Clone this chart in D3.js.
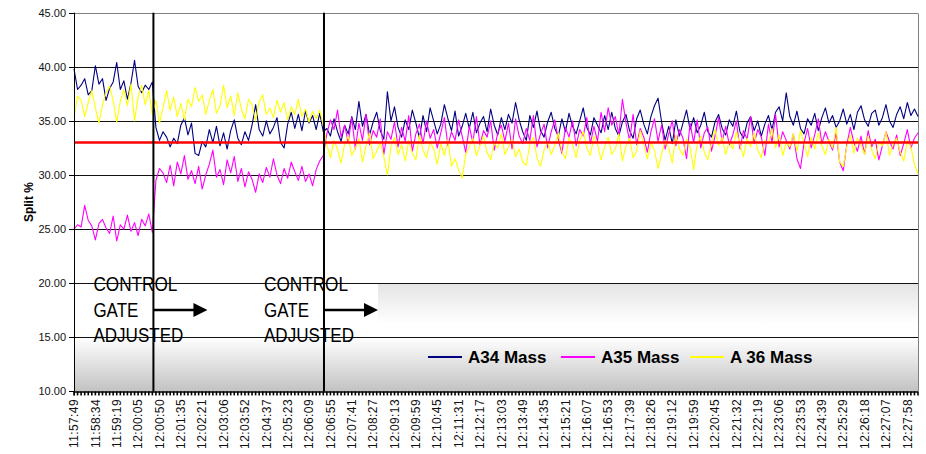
<!DOCTYPE html>
<html><head><meta charset="utf-8">
<script src="https://cdn.jsdelivr.net/npm/d3@7"></script>
<style>
body{margin:0;background:#fff}
svg{display:block;font-family:"Liberation Sans",Arial,sans-serif}
</style>
</head><body>
<svg id="c" width="926" height="454"></svg>
<script>
// ---- data ----
const tickLabels = ["11:57:49","11:58:34","11:59:19","12:00:05","12:00:50","12:01:35","12:02:21","12:03:06","12:03:52","12:04:37","12:05:23","12:06:09","12:06:55","12:07:41","12:08:27","12:09:13","12:09:59","12:10:45","12:11:31","12:12:17","12:13:03","12:13:49","12:14:35","12:15:21","12:16:07","12:16:53","12:17:39","12:18:26","12:19:12","12:19:59","12:20:45","12:21:32","12:22:19","12:23:06","12:23:53","12:24:39","12:25:29","12:26:18","12:27:07","12:27:58"];
const samplesPerLabel = 6;

const a34 = [
39.8,37.9,38.3,38.9,37.4,37.8,40.1,38.4,38.9,36.9,38.0,38.6,40.4,37.9,38.7,37.0,38.5,40.6,38.2,37.6,38.3,37.9,38.6,
34.4,33.2,34.0,33.5,32.6,33.4,32.9,34.6,35.3,33.7,34.8,32.0,31.8,33.1,32.6,34.2,33.0,34.5,32.7,33.9,32.4,34.1,35.1,33.4,32.8,34.0,33.2,34.6,36.5,34.2,33.6,35.0,33.8,34.4,35.3,33.0,32.5,34.7,35.8,34.3,35.6,34.1,35.9,34.8,35.5,34.2,35.7,34.0,
34.3,33.6,35.2,34.0,33.1,34.6,33.8,35.4,34.2,36.8,
34.5,35.6,33.7,34.9,35.8,34.1,33.3,37.7,35.0,36.3,
34.4,33.5,35.1,34.2,36.0,34.8,33.4,35.5,34.0,36.2,
35.0,33.8,34.7,36.5,35.2,34.1,35.9,33.6,34.5,35.7,
34.3,35.8,33.9,34.8,35.4,34.0,36.1,34.6,33.7,35.3,
34.2,35.6,34.8,36.7,35.1,34.0,33.2,35.5,34.4,35.9,
34.1,33.5,34.9,35.8,34.3,33.6,35.2,34.0,35.7,34.5,
33.8,35.0,36.2,34.4,33.7,35.3,34.6,33.9,35.5,34.2,
35.8,34.3,33.6,34.9,35.6,34.1,33.4,35.2,36.0,34.7,
33.8,35.4,36.4,37.1,34.9,33.2,34.5,32.9,35.1,33.6,
34.8,36.0,34.2,35.3,33.9,34.6,35.8,34.0,33.5,34.9,
35.6,34.3,33.7,35.1,34.5,35.9,34.0,33.4,34.8,35.4,
34.1,35.0,33.6,34.7,35.5,34.2,35.8,36.3,35.0,37.6,
35.4,34.6,35.9,34.3,33.8,35.2,34.6,35.7,34.1,35.3,
36.2,34.8,35.5,34.4,35.0,36.1,34.7,35.6,34.2,35.8,
36.4,35.1,34.5,35.7,36.0,34.6,35.3,36.5,35.0,34.4,
35.6,36.3,35.2,36.7,35.5,36.1,35.4
];
const a35 = [
25.0,25.4,25.2,27.2,25.8,25.3,24.0,25.5,25.9,25.1,24.6,26.2,23.9,25.4,25.0,26.3,24.8,25.6,24.4,25.9,25.3,26.4,24.7,
29.5,30.6,30.2,29.3,30.9,29.0,31.2,30.1,31.8,29.6,30.4,29.2,30.8,28.7,30.0,31.0,32.3,29.8,30.5,29.1,31.4,30.2,31.7,29.4,30.6,28.9,30.3,29.6,28.4,30.1,29.3,30.7,29.8,31.5,30.0,29.2,30.6,29.7,31.2,30.3,29.5,30.8,29.4,30.1,29.0,30.5,31.3,31.8,
33.8,35.1,34.2,36.0,33.5,34.6,33.0,35.3,32.4,34.8,
33.2,35.6,32.8,34.1,33.5,35.2,31.9,34.0,33.3,34.9,
32.6,34.4,33.1,35.5,32.2,33.8,34.7,32.9,35.0,33.4,
34.2,32.5,33.9,35.3,32.7,34.0,33.2,35.1,33.6,32.1,
34.5,33.0,35.4,32.8,34.1,33.5,35.0,32.3,33.9,34.6,
33.1,34.8,32.4,35.2,33.6,32.9,34.3,33.2,35.5,32.6,
33.8,34.7,32.5,34.0,35.1,33.3,32.0,34.4,33.5,35.0,
32.7,34.2,33.6,35.3,32.9,34.5,33.1,35.8,34.0,36.2,
34.6,35.4,33.7,37.0,34.8,33.2,35.6,32.8,34.3,33.5,
32.1,34.0,35.2,33.1,34.6,32.4,33.8,35.0,32.7,34.2,
33.4,31.5,34.8,33.0,35.1,32.5,33.9,34.4,32.2,33.6,
35.3,33.1,34.5,32.8,33.7,35.0,32.4,34.1,33.3,35.4,
32.9,34.2,33.5,31.8,34.7,33.0,35.6,32.6,34.0,33.2,
32.4,33.8,31.5,30.6,33.0,34.3,32.5,33.7,35.2,32.9,
34.0,33.1,32.3,33.9,31.2,30.4,32.8,34.4,33.0,32.2,
33.6,31.9,34.1,32.6,33.3,31.4,32.7,34.0,33.1,32.4,
33.7,31.8,32.9,34.2,32.5,33.4,33.9
];
const a36 = [
35.3,37.3,36.9,35.4,36.7,37.8,36.2,34.8,36.5,37.6,38.2,36.9,34.9,36.8,37.9,36.4,38.4,35.0,37.2,38.3,36.5,37.8,35.6,
36.9,34.8,36.2,37.8,36.0,37.2,35.4,36.6,35.1,37.0,36.3,38.1,36.8,37.4,35.6,36.9,37.9,35.7,36.4,38.3,36.2,37.3,35.5,37.6,36.1,35.2,37.0,36.5,35.0,36.8,37.4,35.6,36.2,35.3,36.9,35.8,36.7,35.1,36.3,35.6,37.0,35.4,36.1,34.9,35.9,35.2,36.0,34.6,
32.8,31.6,33.2,32.4,31.1,32.9,33.6,31.8,32.5,33.4,
31.2,32.7,33.9,31.5,32.2,33.0,31.7,30.0,32.6,33.5,
31.9,32.8,31.3,33.2,32.0,31.4,33.7,32.3,31.6,33.1,
32.4,31.0,32.9,31.8,33.3,30.8,31.5,30.5,29.7,31.9,
32.6,33.4,31.8,32.7,33.6,32.1,31.4,33.0,32.5,33.8,
31.9,32.6,33.3,31.7,32.4,31.2,30.9,32.8,33.5,31.6,
30.8,32.3,33.1,31.9,32.7,33.9,32.2,31.5,33.4,32.8,
31.6,33.2,34.0,32.5,31.8,33.6,32.9,31.4,32.6,33.5,
31.9,32.4,33.8,31.3,32.7,33.4,31.6,32.2,34.1,32.8,
31.5,33.0,32.3,30.6,31.9,33.2,32.5,31.1,33.7,32.4,
31.8,33.3,32.6,30.5,32.9,33.6,32.1,31.4,33.0,34.2,
32.7,33.5,31.9,33.1,32.4,34.0,32.8,31.7,33.4,32.6,
33.9,32.3,31.6,33.2,32.9,34.3,32.5,33.7,31.8,33.0,
32.6,33.8,32.2,34.1,32.9,31.7,33.5,32.4,33.9,32.7,
31.9,33.3,32.5,34.4,31.2,30.8,32.6,33.7,32.0,33.4,
32.8,31.9,33.6,32.3,31.5,33.1,32.7,34.0,31.8,32.9,
33.4,32.1,31.3,33.2,32.6,31.0,30.1
];
const seriesNames = ["A34 Mass","A35 Mass","A 36 Mass"];
const seriesColors = ["#000080","#ff00ff","#ffff00"];
const targetSplit = 33;
const yTicks = [10,15,20,25,30,35,40,45];
const gateAdjustIdx = [22.3, 70.2];
const noteLines = ["CONTROL","GATE","ADJUSTED"];

// ---- layout ----
const L = 74, R = 918, T = 12.7, B = 391.4;
const svg = d3.select("#c");
const N = a34.length;
const x = d3.scaleLinear().domain([0, N - 1]).range([L, R]);
const y = d3.scaleLinear().domain([10, 45]).range([B, T]);
const snap = v => Math.round(v) + 0.5;

const defs = svg.append("defs");
const g1 = defs.append("linearGradient").attr("id","gBottom").attr("x1",0).attr("y1",0).attr("x2",0).attr("y2",1);
g1.append("stop").attr("offset","0%").attr("stop-color","#ffffff");
g1.append("stop").attr("offset","100%").attr("stop-color","#c2c2c2");
const g2 = defs.append("linearGradient").attr("id","gLegTop").attr("x1",0).attr("y1",0).attr("x2",0).attr("y2",1);
g2.append("stop").attr("offset","0%").attr("stop-color","#e4e4e4");
g2.append("stop").attr("offset","75%").attr("stop-color","#ffffff");

// shaded bands
svg.append("rect").attr("x", L).attr("y", y(15)).attr("width", R - L).attr("height", y(10) - y(15)).attr("fill","url(#gBottom)");
svg.append("rect").attr("x", 378).attr("y", y(20)).attr("width", R - 378).attr("height", y(15) - y(20)).attr("fill","url(#gLegTop)");

// gridlines
svg.append("g").selectAll("line").data(yTicks.filter(v => v > 10)).join("line")
  .attr("x1", L).attr("x2", R)
  .attr("y1", d => snap(y(d))).attr("y2", d => snap(y(d)))
  .attr("stroke", d => d === 45 ? "#808080" : "#111").attr("stroke-width", 1);
// right border
svg.append("line").attr("x1", snap(R)).attr("x2", snap(R)).attr("y1", snap(y(45))).attr("y2", B)
  .attr("stroke","#808080");

// series
const line = d3.line().x((d, i) => x(i)).y(d => y(d));
[a34, a35, a36].forEach((s, k) => {
  svg.append("path").datum(s).attr("d", line).attr("fill","none")
    .attr("stroke", seriesColors[k]).attr("stroke-width", 1.1).attr("stroke-linejoin","round");
});

// target line
svg.append("line").attr("x1", L).attr("x2", R).attr("y1", y(targetSplit)).attr("y2", y(targetSplit))
  .attr("stroke","#ff0000").attr("stroke-width", 2.6);

// gate adjust markers
svg.append("g").selectAll("line").data(gateAdjustIdx).join("line")
  .attr("x1", d => x(d)).attr("x2", d => x(d)).attr("y1", y(45)).attr("y2", B)
  .attr("stroke","#000").attr("stroke-width", 2);

// annotations
const lineW = {"CONTROL": 84, "GATE": 45, "ADJUSTED": 90};
gateAdjustIdx.forEach(d => {
  const xv = x(d);
  const tx = xv - 60;
  const gt = svg.append("g");
  noteLines.forEach((t, j) => {
    gt.append("text").attr("x", tx).attr("y", 291 + j * 25.5)
      .attr("font-size", 21).attr("fill","#000")
      .attr("textLength", lineW[t]).attr("lengthAdjust","spacingAndGlyphs").text(t);
  });
  const ay = 310;
  svg.append("line").attr("x1", xv).attr("x2", xv + 42).attr("y1", ay).attr("y2", ay)
    .attr("stroke","#000").attr("stroke-width", 2.4);
  svg.append("path").attr("d", `M${xv + 40},${ay - 7}L${xv + 54},${ay}L${xv + 40},${ay + 7}Z`).attr("fill","#000");
});

// legend
const legX = [428, 561, 690];
seriesNames.forEach((n, k) => {
  svg.append("line").attr("x1", legX[k]).attr("x2", legX[k] + 34).attr("y1", 357).attr("y2", 357)
    .attr("stroke", seriesColors[k]).attr("stroke-width", 2.2);
  svg.append("text").attr("x", legX[k] + 40).attr("y", 363).attr("font-size", 17)
    .attr("font-weight","bold").attr("fill","#000").text(n);
});

// y axis
const yAx = svg.append("g");
yAx.append("line").attr("x1", snap(L)).attr("x2", snap(L)).attr("y1", y(45)).attr("y2", B + 4).attr("stroke","#000");
yAx.selectAll("line.t").data(yTicks).join("line").attr("class","t")
  .attr("x1", L - 5).attr("x2", L).attr("y1", d => snap(y(d))).attr("y2", d => snap(y(d))).attr("stroke","#000");
yAx.selectAll("text").data(yTicks).join("text")
  .attr("x", 66).attr("y", d => y(d)).attr("dy","0.35em").attr("text-anchor","end")
  .attr("font-size", 11).attr("fill","#111").text(d => d.toFixed(2));
svg.append("text").attr("transform", `translate(33,${(T + B) / 2}) rotate(-90)`)
  .attr("text-anchor","middle").attr("font-size", 12).attr("font-weight","bold").text("Split %");

// x axis
const xAx = svg.append("g");
xAx.append("line").attr("x1", L).attr("x2", R).attr("y1", B + 0.5).attr("y2", B + 0.5).attr("stroke","#000").attr("stroke-width",1.5);
xAx.selectAll("line.t").data(d3.range(N)).join("line").attr("class","t")
  .attr("x1", d => x(d)).attr("x2", d => x(d)).attr("y1", B).attr("y2", B + 4)
  .attr("stroke","#000").attr("stroke-width", 1.6);
xAx.selectAll("text").data(tickLabels).join("text")
  .attr("transform", (d, i) => `translate(${x(i * samplesPerLabel)},399) rotate(-90)`)
  .attr("text-anchor","end").attr("dy","0.35em").attr("font-size", 12)
  .attr("letter-spacing", 0.4).attr("fill","#111").text(d => d);
</script>
</body></html>
